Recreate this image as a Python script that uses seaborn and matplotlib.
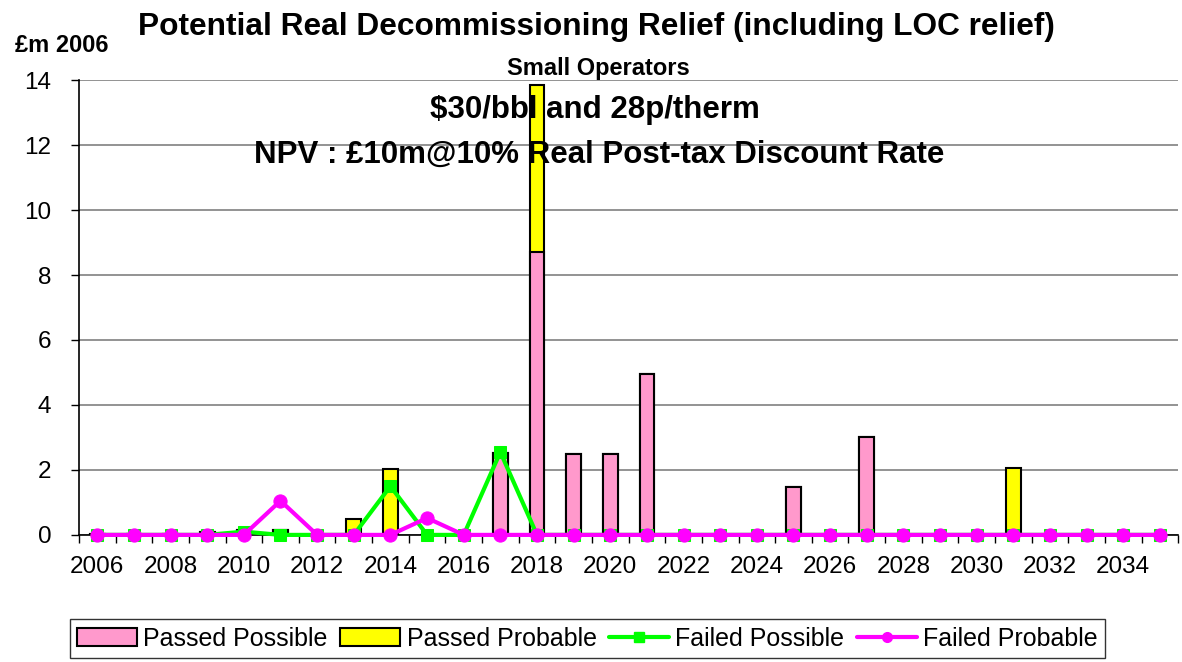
import matplotlib
matplotlib.use("Agg")
import matplotlib.pyplot as plt
import seaborn as sns
import numpy as np
import pandas as pd
from matplotlib.patches import Patch
from matplotlib.lines import Line2D

years = list(range(2006, 2036))
passed_possible = [0.03, 0.03, 0.03, 0.08, 0.15, 0.15, 0.0, 0.0, 0.0, 0.0, 0.0, 2.53, 8.7, 2.5, 2.5, 4.95,
                   0.0, 0.0, 0.0, 1.47, 0.0, 3.0, 0.0, 0.0, 0.0, 0.0, 0.0, 0.0, 0.0, 0.0]
passed_probable = [0.0, 0.0, 0.0, 0.0, 0.0, 0.0, 0.0, 0.48, 2.02, 0.0, 0.0, 0.0, 5.15, 0.0, 0.0, 0.0,
                   0.0, 0.0, 0.0, 0.0, 0.0, 0.0, 0.0, 0.0, 0.0, 2.07, 0.0, 0.0, 0.0, 0.0]
failed_possible = [0.0, 0.0, 0.0, 0.0, 0.1, 0.0, 0.0, 0.0, 1.5, 0.0, 0.0, 2.55, 0.0, 0.0, 0.0, 0.0,
                   0.0, 0.0, 0.0, 0.0, 0.0, 0.0, 0.0, 0.0, 0.0, 0.0, 0.0, 0.0, 0.0, 0.0]
failed_probable = [0.0, 0.0, 0.0, 0.0, 0.0, 1.05, 0.0, 0.0, 0.0, 0.52, 0.0, 0.0, 0.0, 0.0, 0.0, 0.0,
                   0.0, 0.0, 0.0, 0.0, 0.0, 0.0, 0.0, 0.0, 0.0, 0.0, 0.0, 0.0, 0.0, 0.0]
series_names = ["Passed Possible", "Passed Probable", "Failed Possible", "Failed Probable"]

sns.set_theme(style="white")
plt.rcParams['font.family'] = ['Liberation Sans', 'DejaVu Sans']
plt.rcParams['text.color'] = 'black'
plt.rcParams['xtick.color'] = 'black'
plt.rcParams['ytick.color'] = 'black'

df = pd.DataFrame({
    "year": [str(y) for y in years],
    "pos": np.arange(len(years)),
    "pp": passed_possible,
    "pb": passed_probable,
    "fp": failed_possible,
    "fb": failed_probable,
})
df["total"] = df["pp"] + df["pb"]

fig = plt.figure(figsize=(11.82, 6.62), dpi=100)
ax = fig.add_axes([0.0668, 0.192, 0.93, 0.687])

pink = "#FF99CC"
yellow = "#FFFF00"
green = "#00FF00"
magenta = "#FF00FF"

order = list(range(len(years)))
sns.barplot(data=df, x="pos", y="total", color=yellow, saturation=1, width=0.4,
            edgecolor="black", linewidth=1.5, ax=ax, order=order)
sns.barplot(data=df, x="pos", y="pp", color=pink, saturation=1, width=0.4,
            edgecolor="black", linewidth=1.5, ax=ax, order=order)
sns.lineplot(data=df, x="pos", y="fp", color=green, linewidth=3, marker="s",
             markersize=8, markeredgecolor=green, ax=ax, clip_on=False, zorder=5)
sns.lineplot(data=df, x="pos", y="fb", color=magenta, linewidth=3, marker="o",
             markersize=9.5, markeredgecolor=magenta, ax=ax, clip_on=False, zorder=6)

ax.set_xlim(-0.5, len(years) - 0.5)
ax.set_ylim(0, 14)
ax.set_yticks(np.arange(0, 15, 2))
ax.set_yticklabels([str(v) for v in range(0, 15, 2)], fontsize=17.5)
ax.yaxis.grid(True, color="#808080", linewidth=1.2)
ax.set_axisbelow(True)

ax.set_xticks(np.arange(len(years)))
ax.set_xticklabels([str(y) if y % 2 == 0 else "" for y in years], fontsize=17.5)
ax.tick_params(axis="x", length=0, pad=15)
ax.set_xticks(np.arange(len(years) + 1) - 0.5, minor=True)
ax.tick_params(axis="x", which="minor", length=6, width=1, color="black", direction="out", bottom=True)
ax.tick_params(axis="y", length=6, width=1, color="black", direction="out", left=True, pad=14)
ax.set_xlabel("")
ax.set_ylabel("")

for s in ["top", "right"]:
    ax.spines[s].set_visible(False)
for s in ["left", "bottom"]:
    ax.spines[s].set_color("black")
    ax.spines[s].set_linewidth(1.2)

fig.text(0.505, 0.959, "Potential Real Decommissioning Relief (including LOC relief)",
         ha="center", va="center", fontsize=22.8, fontweight="bold")
fig.text(0.013, 0.931, "£m 2006", ha="left", va="center", fontsize=17, fontweight="bold")
fig.text(0.506, 0.897, "Small Operators", ha="center", va="center", fontsize=17, fontweight="bold")
fig.text(0.503, 0.834, "$30/bbl and 28p/therm", ha="center", va="center", fontsize=22.5, fontweight="bold")
fig.text(0.507, 0.766, "NPV : £10m@10% Real Post-tax Discount Rate", ha="center", va="center",
         fontsize=22.5, fontweight="bold")

handles = [
    Patch(facecolor=pink, edgecolor="black", linewidth=1.5),
    Patch(facecolor=yellow, edgecolor="black", linewidth=1.5),
    Line2D([0], [0], color=green, linewidth=3, marker="s", markersize=7),
    Line2D([0], [0], color=magenta, linewidth=3, marker="o", markersize=7),
]
leg = fig.legend(handles, series_names, loc="center", bbox_to_anchor=(0.497, 0.035), ncol=4,
                 fontsize=18, frameon=True, fancybox=False, edgecolor="black",
                 handlelength=2.4, handleheight=0.75, handletextpad=0.25, columnspacing=0.5,
                 borderpad=0.3)
leg.get_frame().set_linewidth(1)

fig.savefig("out.png", dpi=100)
